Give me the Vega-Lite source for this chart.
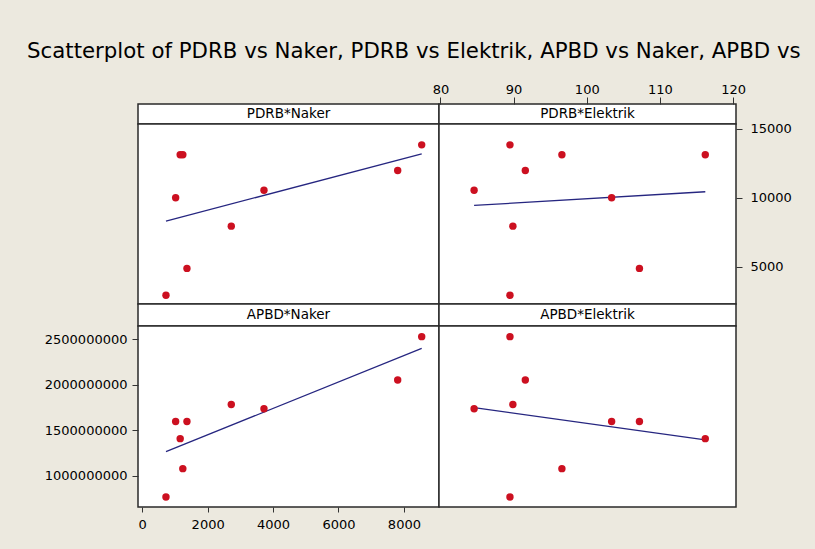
{
  "$schema": "https://vega.github.io/schema/vega-lite/v6.json",
  "background": "#ECE9DF",
  "padding": {"left": 27, "top": 40, "right": 23, "bottom": 17},
  "title": {
    "text": "Scatterplot of PDRB vs Naker, PDRB vs Elektrik, APBD vs Naker, APBD vs",
    "anchor": "start",
    "frame": "group",
    "dx": -111,
    "offset": 20,
    "font": "DejaVu Sans",
    "fontSize": 21.3,
    "fontWeight": "normal",
    "color": "#000000"
  },
  "datasets": {
    "d": [
      {"Naker": 725, "Elektrik": 89.5, "PDRB": 2930, "APBD": 765000000},
      {"Naker": 1367, "Elektrik": 107.2, "PDRB": 4880, "APBD": 1595000000},
      {"Naker": 1021, "Elektrik": 103.4, "PDRB": 10000, "APBD": 1595000000},
      {"Naker": 2722, "Elektrik": 89.9, "PDRB": 7940, "APBD": 1782000000},
      {"Naker": 3722, "Elektrik": 84.6, "PDRB": 10540, "APBD": 1735000000},
      {"Naker": 7810, "Elektrik": 91.6, "PDRB": 11970, "APBD": 2052000000},
      {"Naker": 8544, "Elektrik": 89.5, "PDRB": 13830, "APBD": 2529000000},
      {"Naker": 1160, "Elektrik": 116.2, "PDRB": 13110, "APBD": 1407000000},
      {"Naker": 1240, "Elektrik": 96.6, "PDRB": 13110, "APBD": 1077000000}
    ]
  },
  "columns": 2,
  "spacing": 0,
  "bounds": "flush",
  "align": "each",
  "concat": [
    {
      "width": 301, "height": 20,
      "data": {"values": [{"label": "PDRB*Naker"}]},
      "mark": {"type": "text", "font": "DejaVu Sans", "fontSize": 13.5, "baseline": "middle", "color": "#000000"},
      "encoding": {
        "text": {"field": "label"},
        "x": {"datum": 0.5, "type": "quantitative", "scale": {"domain": [0, 1], "nice": false, "zero": false}, "axis": null}
      }
    },
    {
      "width": 297, "height": 20,
      "data": {"values": [{"label": "PDRB*Elektrik"}]},
      "mark": {"type": "text", "font": "DejaVu Sans", "fontSize": 13.5, "baseline": "middle", "color": "#000000"},
      "encoding": {
        "text": {"field": "label"},
        "x": {"datum": 100.1, "type": "quantitative",
              "scale": {"domain": [79.8, 120.4], "nice": false, "zero": false},
              "axis": {"orient": "top", "values": [80, 90, 100, 110, 120], "tickSize": 7, "labelPadding": 1, "title": null}}
      }
    },
    {
      "width": 301, "height": 180,
      "data": {"name": "d"},
      "encoding": {
        "x": {"field": "Naker", "type": "quantitative", "scale": {"domain": [-130, 9073], "nice": false, "zero": false}, "axis": null},
        "y": {"field": "PDRB", "type": "quantitative", "scale": {"domain": [2300, 15340], "nice": false, "zero": false}, "axis": null}
      },
      "layer": [
        {"transform": [{"regression": "PDRB", "on": "Naker"}], "mark": {"type": "line", "color": "#262680", "strokeWidth": 1.3}, "encoding": {}},
        {"mark": {"type": "circle", "color": "#CC1020", "size": 55, "opacity": 1}}
      ]
    },
    {
      "width": 297, "height": 180,
      "data": {"name": "d"},
      "encoding": {
        "x": {"field": "Elektrik", "type": "quantitative", "scale": {"domain": [79.8, 120.4], "nice": false, "zero": false}, "axis": null},
        "y": {"field": "PDRB", "type": "quantitative", "scale": {"domain": [2300, 15340], "nice": false, "zero": false},
              "axis": {"orient": "right", "values": [5000, 10000, 15000], "tickSize": 6, "labelPadding": 8, "title": null, "format": "d"}}
      },
      "layer": [
        {"transform": [{"regression": "PDRB", "on": "Elektrik"}], "mark": {"type": "line", "color": "#262680", "strokeWidth": 1.3}, "encoding": {}},
        {"mark": {"type": "circle", "color": "#CC1020", "size": 55, "opacity": 1}}
      ]
    },
    {
      "width": 301, "height": 22,
      "data": {"values": [{"label": "APBD*Naker"}]},
      "mark": {"type": "text", "font": "DejaVu Sans", "fontSize": 13.5, "baseline": "middle", "color": "#000000"},
      "encoding": {
        "text": {"field": "label"},
        "x": {"datum": 0.5, "type": "quantitative", "scale": {"domain": [0, 1], "nice": false, "zero": false}, "axis": null}
      }
    },
    {
      "width": 297, "height": 22,
      "data": {"values": [{"label": "APBD*Elektrik"}]},
      "mark": {"type": "text", "font": "DejaVu Sans", "fontSize": 13.5, "baseline": "middle", "color": "#000000"},
      "encoding": {
        "text": {"field": "label"},
        "x": {"datum": 0.5, "type": "quantitative", "scale": {"domain": [0, 1], "nice": false, "zero": false}, "axis": null}
      }
    },
    {
      "width": 301, "height": 181,
      "data": {"name": "d"},
      "encoding": {
        "x": {"field": "Naker", "type": "quantitative", "scale": {"domain": [-130, 9073], "nice": false, "zero": false},
              "axis": {"orient": "bottom", "values": [0, 2000, 4000, 6000, 8000], "tickSize": 5, "labelPadding": 6, "title": null, "format": "d"}},
        "y": {"field": "APBD", "type": "quantitative", "scale": {"domain": [655000000, 2646000000], "nice": false, "zero": false},
              "axis": {"orient": "left", "values": [1000000000, 1500000000, 2000000000, 2500000000], "tickSize": 6, "labelPadding": 5, "title": null, "format": "d"}}
      },
      "layer": [
        {"transform": [{"regression": "APBD", "on": "Naker"}], "mark": {"type": "line", "color": "#262680", "strokeWidth": 1.3}, "encoding": {}},
        {"mark": {"type": "circle", "color": "#CC1020", "size": 55, "opacity": 1}}
      ]
    },
    {
      "width": 297, "height": 181,
      "data": {"name": "d"},
      "encoding": {
        "x": {"field": "Elektrik", "type": "quantitative", "scale": {"domain": [79.8, 120.4], "nice": false, "zero": false}, "axis": null},
        "y": {"field": "APBD", "type": "quantitative", "scale": {"domain": [655000000, 2646000000], "nice": false, "zero": false}, "axis": null}
      },
      "layer": [
        {"transform": [{"regression": "APBD", "on": "Elektrik"}], "mark": {"type": "line", "color": "#262680", "strokeWidth": 1.3}, "encoding": {}},
        {"mark": {"type": "circle", "color": "#CC1020", "size": 55, "opacity": 1}}
      ]
    }
  ],
  "config": {
    "view": {"fill": "#FFFFFF", "stroke": "#2A2A2A", "strokeWidth": 1.5},
    "axis": {
      "labelFont": "DejaVu Sans",
      "labelFontSize": 13,
      "labelColor": "#000000",
      "labelFlush": false,
      "labelOverlap": false,
      "tickColor": "#333333",
      "tickWidth": 1,
      "domain": false,
      "grid": false
    }
  }
}
